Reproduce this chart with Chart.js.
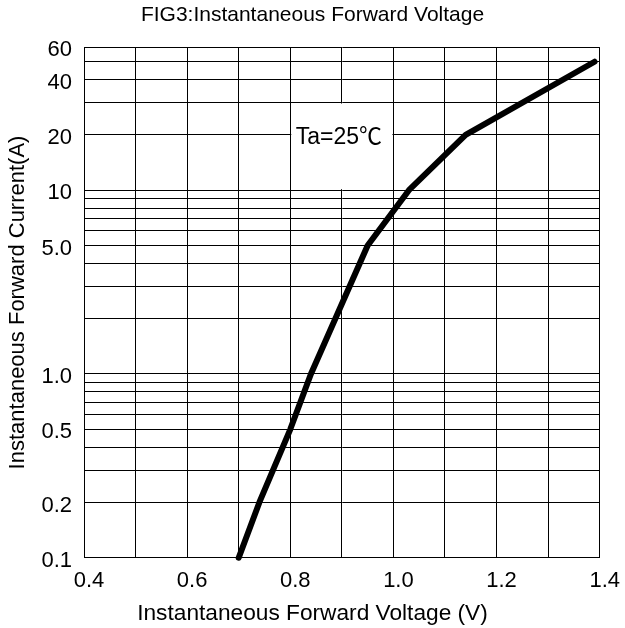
<!DOCTYPE html>
<html>
<head>
    <script src="https://cdn.jsdelivr.net/npm/chart.js@4/dist/chart.umd.min.js"></script>
    <style>
      body { margin: 0; background: #fff; }
      #box { width: 625px; height: 628px; }
    </style>
</head>
<body>

  <div id="box">
    <canvas id="wykres"></canvas>
  </div>
  <script>

// curve (V, A)
const voltage = [0.70, 0.74, 0.80, 0.84, 0.95, 1.03, 1.14, 1.39];
const current = [0.1, 0.2, 0.5, 1.0, 5.0, 10, 20, 50];

// y grid lines and the ones that carry a label
const yGrid = [0.1, 0.2, 0.3, 0.4, 0.5, 0.6, 0.7, 0.8, 0.9,
               1, 2, 3, 4, 5, 6, 7, 8, 9,
               10, 20, 30, 40, 50, 60];
const yLabels = { 0.1: '0.1', 0.2: '0.2', 0.5: '0.5', 1: '1.0', 5: '5.0',
                  10: '10', 20: '20', 40: '40', 60: '60' };
const xLabels = ['0.4', '0.6', '0.8', '1.0', '1.2', '1.4'];

const note = 'Ta=25\u2103';

const FONT = "'Liberation Sans', Arial, sans-serif";

// white box with the temperature note, sits in the 0.8-1.0 V / 10-30 A cell
const notePlugin = {
  id: 'note',
  beforeDatasetsDraw(chart) {
    const { ctx, scales: { x, y } } = chart;
    const l = x.getPixelForValue(0.8), r = x.getPixelForValue(1.0);
    const t = y.getPixelForValue(30), b = y.getPixelForValue(10);
    ctx.save();
    ctx.fillStyle = '#fff';
    ctx.fillRect(l + 1, t + 1, r - l - 2, b - t - 2);
    ctx.fillStyle = '#000';
    ctx.font = "23px 'Liberation Sans', 'Noto Sans CJK SC', sans-serif";
    ctx.textAlign = 'center';
    ctx.textBaseline = 'middle';
    ctx.fillText(note, (l + r) / 2 - 3, y.getPixelForValue(20) + 3);
    ctx.restore();
  }
};

const ctx = document.getElementById('wykres');
new Chart(ctx, {
  type: 'line',
  data: {
    datasets: [{
      data: voltage.map((v, i) => ({ x: v, y: current[i] })),
      borderColor: '#000',
      borderWidth: 6,
      borderCapStyle: 'round',
      borderJoinStyle: 'round',
      pointRadius: 0,
      tension: 0,
      clip: false
    }]
  },
  options: {
    responsive: true,
    maintainAspectRatio: false,
    animation: false,
    layout: { padding: 0 },
    plugins: {
      legend: { display: false },
      tooltip: { enabled: false },
      title: {
        display: true,
        text: 'FIG3:Instantaneous Forward Voltage',
        color: '#000',
        font: { family: FONT, size: 21, weight: 'normal' },
        padding: { top: 3, bottom: 19 }
      },
      // x axis caption, centred on the whole page like in the original
      subtitle: {
        display: true,
        position: 'bottom',
        text: 'Instantaneous Forward Voltage (V)',
        color: '#000',
        font: { family: FONT, size: 22.7, weight: 'normal' },
        padding: { top: 0, bottom: 1 }
      }
    },
    scales: {
      x: {
        type: 'linear',
        min: 0.4,
        max: 1.4,
        ticks: {
          stepSize: 0.1,
          color: '#000',
          padding: 10,
          labelOffset: 5,
          maxRotation: 0,
          autoSkip: false,
          font: { family: FONT, size: 22 },
          callback: (v) => {
            const s = v.toFixed(1);
            return xLabels.includes(s) ? s : '';
          }
        },
        grid: { color: '#000', lineWidth: 1, drawTicks: false },
        border: { color: '#000', width: 1 },
        afterFit: (s) => { s.height = 42; }
      },
      y: {
        type: 'logarithmic',
        min: 0.1,
        max: 60,
        afterBuildTicks: (s) => { s.ticks = yGrid.map(v => ({ value: v })); },
        ticks: {
          color: '#000',
          padding: 12,
          labelOffset: 3,
          autoSkip: false,
          font: { family: FONT, size: 22 },
          callback: (v) => yLabels[v] || ''
        },
        grid: { color: '#000', lineWidth: 1, drawTicks: false },
        border: { color: '#000', width: 1 },
        title: {
          display: true,
          text: 'Instantaneous Forward Current(A)',
          color: '#000',
          font: { family: FONT, size: 22 },
          padding: { top: 5, bottom: 0 }
        },
        afterFit: (s) => { s.width = 84; }
      },
      // empty right-hand margin, keeps the titles centred on the page
      yRight: {
        position: 'right',
        grid: { display: false },
        border: { display: false },
        ticks: { display: false },
        afterFit: (s) => { s.width = 24; }
      }
    }
  },
  plugins: [notePlugin]
});
  </script>
</body>
</html>
